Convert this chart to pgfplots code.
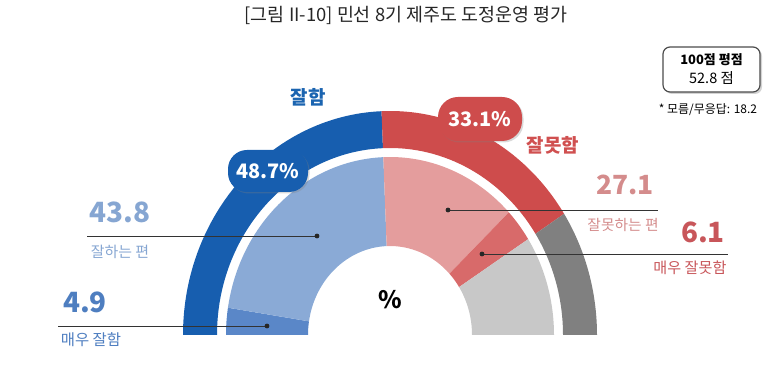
\documentclass[border=0pt]{standalone}
\usepackage{pgfplots}
\pgfplotsset{compat=1.18}
\usepackage{pgfplotstable}
\usepackage{fontspec}
\setmainfont{Noto Sans CJK KR}
\usetikzlibrary{shadows}

\definecolor{obl}{RGB}{23,94,175}
\definecolor{ore}{RGB}{206,76,76}
\definecolor{ogr}{RGB}{128,128,128}
\definecolor{ibl1}{RGB}{90,135,200}
\definecolor{ibl2}{RGB}{138,170,214}
\definecolor{ire1}{RGB}{228,157,157}
\definecolor{ire2}{RGB}{216,106,106}
\definecolor{igr}{RGB}{200,200,200}
\definecolor{t438}{RGB}{134,166,210}
\definecolor{t49}{RGB}{78,126,192}
\definecolor{t271}{RGB}{212,140,140}
\definecolor{t61}{RGB}{200,86,90}
\definecolor{tred}{RGB}{208,80,80}
\definecolor{tblue}{RGB}{27,100,176}

% outer ring: 잘함 / 잘못함 / 모름
\pgfplotstableread{
grp value
good 48.7
bad 33.1
dk 18.2
}\outerdata
% inner ring: 매우 잘함 / 잘하는 편 / 잘못하는 편 / 매우 잘못함 / 모름
\pgfplotstableread{
grp value
vgood 4.9
good 43.8
bad 27.1
vbad 6.1
dk 18.2
}\innerdata

\newcommand{\donutseg}[7]{%
  \fill[#7] (axis cs:{390+#3*cos(#1)},{41+#4*sin(#1)})
    arc[start angle=#1, end angle=#2, x radius=#3bp, y radius=#4bp]
    -- (axis cs:{390+#5*cos(#2)},{41+#6*sin(#2)})
    arc[start angle=#2, end angle=#1, x radius=#5bp, y radius=#6bp] -- cycle;}

\begin{document}
\begin{tikzpicture}
\pgfplotstablegetelem{0}{value}\of\outerdata \pgfmathsetmacro{\oA}{180-1.8*\pgfplotsretval}
\pgfplotstablegetelem{1}{value}\of\outerdata \pgfmathsetmacro{\oB}{\oA-1.8*\pgfplotsretval}
\pgfplotstablegetelem{0}{value}\of\innerdata \pgfmathsetmacro{\iA}{180-1.8*\pgfplotsretval}
\pgfplotstablegetelem{1}{value}\of\innerdata \pgfmathsetmacro{\iB}{\iA-1.8*\pgfplotsretval}
\pgfplotstablegetelem{2}{value}\of\innerdata \pgfmathsetmacro{\iC}{\iB-1.8*\pgfplotsretval}
\pgfplotstablegetelem{3}{value}\of\innerdata \pgfmathsetmacro{\iD}{\iC-1.8*\pgfplotsretval}
\begin{axis}[
  scale only axis, width=784bp, height=376bp,
  xmin=0, xmax=784, ymin=0, ymax=376,
  hide axis, clip=false]
\path (axis cs:0,0) rectangle (axis cs:784,376);
% outer ring
\donutseg{180}{\oA}{207}{224}{173}{187}{obl}
\donutseg{\oA}{\oB}{207}{224}{173}{187}{ore}
\donutseg{\oB}{0}{207}{224}{173}{187}{ogr}
% inner ring
\donutseg{180}{\iA}{164}{178}{82}{89}{ibl1}
\donutseg{\iA}{\iB}{164}{178}{82}{89}{ibl2}
\donutseg{\iB}{\iC}{164}{178}{82}{89}{ire1}
\donutseg{\iC}{\iD}{164}{178}{82}{89}{ire2}
\donutseg{\iD}{0}{164}{178}{82}{89}{igr}

% title
\node[text=black!85, font=\fontsize{18.5}{21}\selectfont] at (axis cs:406,361) {[그림 II-10] 민선 8기 제주도 도정운영 평가};

% group labels
\node[text=tblue, font=\bfseries\fontsize{19}{22}\selectfont] at (axis cs:308,279) {잘함};
\node[text=tred, font=\bfseries\fontsize{19}{22}\selectfont] at (axis cs:553,231) {잘못함};

% bubbles
\node[fill=obl, text=white, rounded corners=19bp, minimum width=80bp, minimum height=42bp, inner sep=0pt,
  drop shadow={shadow xshift=1.5bp, shadow yshift=-1.5bp, opacity=0.3},
  font=\bfseries\fontsize{20}{22}\selectfont] at (axis cs:268,205) {48.7\%};
\node[fill=ore, text=white, rounded corners=20bp, minimum width=84bp, minimum height=44bp, inner sep=0pt,
  drop shadow={shadow xshift=1.5bp, shadow yshift=-1.5bp, opacity=0.3},
  font=\bfseries\fontsize{20}{22}\selectfont] at (axis cs:480,257) {33.1\%};

% leader lines
\draw[black!80, line width=0.9bp] (axis cs:87,140) -- (axis cs:317,140);
\fill[black!85] (axis cs:317,140) circle[radius=2.4bp];
\draw[black!80, line width=0.9bp] (axis cs:58,50) -- (axis cs:267,50);
\fill[black!85] (axis cs:267,50) circle[radius=2.4bp];
\draw[black!80, line width=0.9bp] (axis cs:448,166) -- (axis cs:658,166);
\fill[black!85] (axis cs:448,166) circle[radius=2.4bp];
\draw[black!80, line width=0.9bp] (axis cs:482,122) -- (axis cs:728,122);
\fill[black!85] (axis cs:482,122) circle[radius=2.4bp];

% value labels
\node[text=t438, font=\bfseries\fontsize{28}{30}\selectfont] at (axis cs:120,164) {43.8};
\node[text=t438, font=\fontsize{15}{17}\selectfont] at (axis cs:120,124) {잘하는 편};
\node[text=t49, font=\bfseries\fontsize{28}{30}\selectfont] at (axis cs:85,74) {4.9};
\node[text=t49, font=\fontsize{15.5}{17}\selectfont] at (axis cs:91,36) {매우 잘함};
\node[text=t271, font=\bfseries\fontsize{26.5}{30}\selectfont] at (axis cs:625,191) {27.1};
\node[text=t271, font=\fontsize{14.8}{17}\selectfont] at (axis cs:623,151) {잘못하는 편};
\node[text=t61, font=\bfseries\fontsize{28}{30}\selectfont] at (axis cs:703,144) {6.1};
\node[text=t61, font=\fontsize{15.2}{17}\selectfont] at (axis cs:690,108) {매우 잘못함};

% centre
\node[font=\bfseries\fontsize{24}{26}\selectfont] at (axis cs:390,76) {\%};

% score box
\node[draw=black!70, line width=1.2bp, fill=white, rounded corners=7bp, minimum width=97bp, minimum height=45bp,
  drop shadow={shadow xshift=2bp, shadow yshift=-2bp, opacity=0.35}] at (axis cs:711.5,306.5) {};
\node[font=\bfseries\fontsize{13}{15}\selectfont] at (axis cs:711.5,316) {100점 평점};
\node[font=\fontsize{14.5}{16}\selectfont] at (axis cs:711.5,298) {52.8 점};
\node[font=\fontsize{12}{14}\selectfont] at (axis cs:708,266) {* 모름/무응답: 18.2};
\end{axis}
\end{tikzpicture}
\end{document}
